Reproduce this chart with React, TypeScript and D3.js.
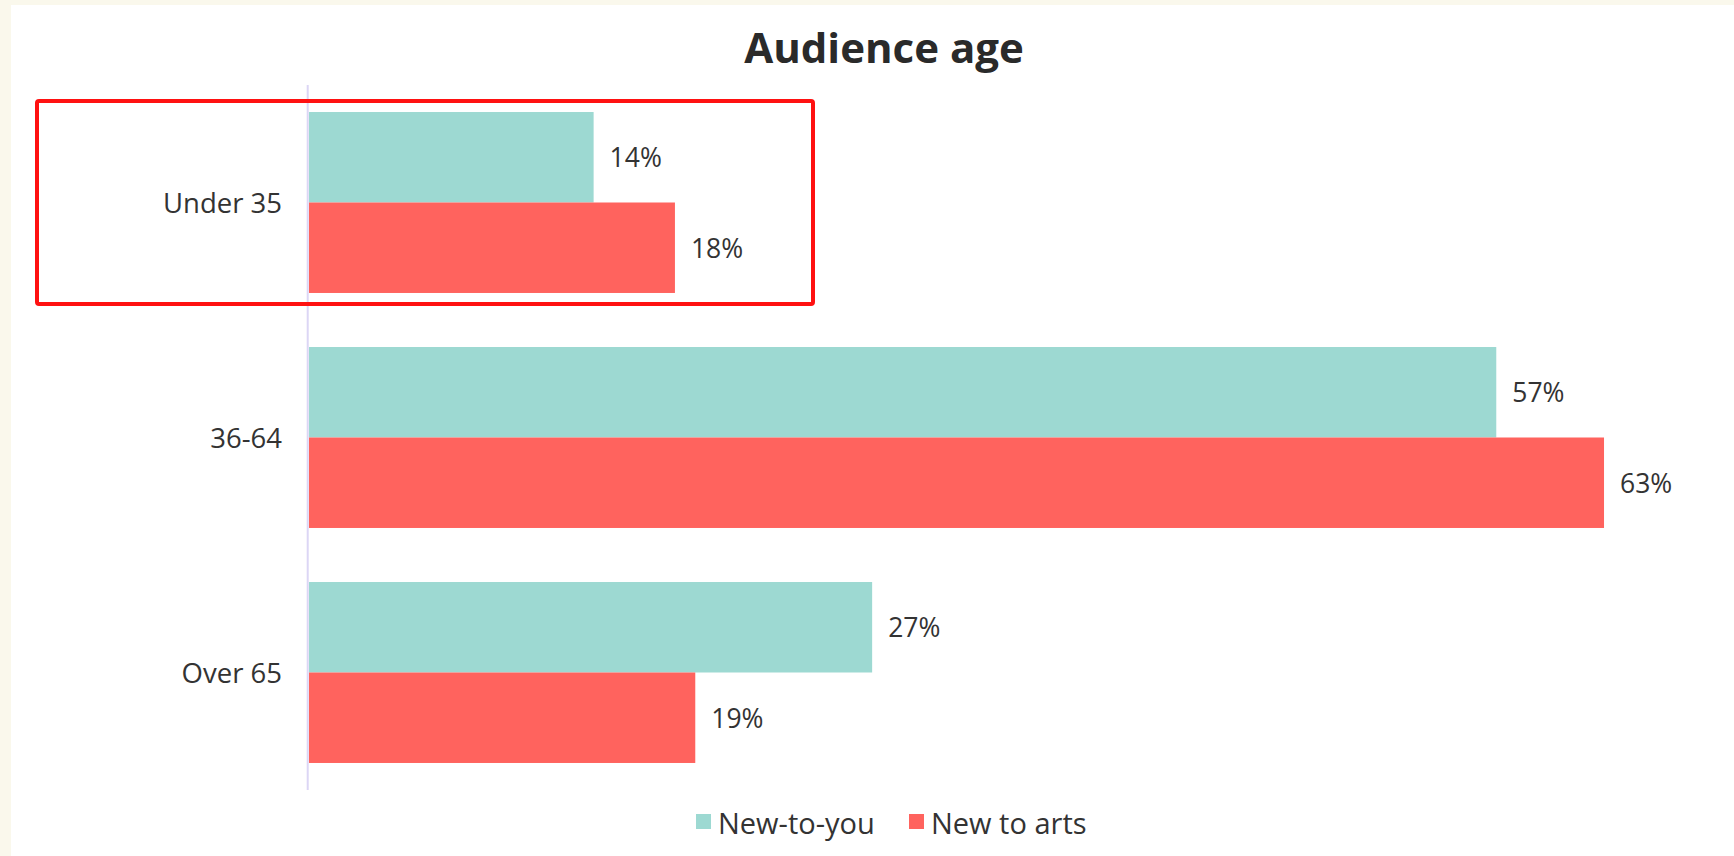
import React from "react";
import * as d3 from "d3";

const categories = ["Under 35", "36-64", "Over 65"];
const seriesNames = ["New-to-you", "New to arts"];
// bar lengths (percent)
const newToYou = [14.0, 58.4, 27.7];
const newToArts = [18.0, 63.7, 19.0];
// printed value labels
const newToYouLabels = ["14%", "57%", "27%"];
const newToArtsLabels = ["18%", "63%", "19%"];
const colors = ["#9dd9d2", "#ff635e"];

const W = 1734;
const H = 856;
const FONT = "'Open Sans', 'Noto Sans', sans-serif";
const TEXT = "#333333";

export default function App() {
  const axisX = 307.7;
  const x = d3.scaleLinear().domain([0, 70]).range([309, 309 + 70 * 20.33]);
  const y = d3
    .scaleBand<string>()
    .domain(categories)
    .range([85, 790])
    .paddingInner(0.23)
    .paddingOuter(0.115);
  const sub = d3.scaleBand<string>().domain(seriesNames).range([0, y.bandwidth()]).padding(0);

  const series = [
    { name: seriesNames[0], values: newToYou, labels: newToYouLabels, color: colors[0] },
    { name: seriesNames[1], values: newToArts, labels: newToArtsLabels, color: colors[1] },
  ];

  const hlY0 = (y(categories[0]) as number) - 11;
  const hlY1 = (y(categories[0]) as number) + y.bandwidth() + 11;

  return (
    <svg
      width={W}
      height={H}
      style={{ position: "absolute", left: 0, top: 0, display: "block" }}
    >
      <rect x={0} y={0} width={W} height={H} fill="#faf8ec" />
      <rect x={11} y={5} width={W - 11} height={H - 5} fill="#ffffff" />

      <text
        x={884}
        y={63}
        textAnchor="middle"
        fontFamily={FONT}
        fontWeight={700}
        fontSize={42}
        fill="#2a2a2a"
      >
        Audience age
      </text>

      {series.map((s) =>
        categories.map((c, i) => {
          const y0 = (y(c) as number) + (sub(s.name) as number);
          const bh = sub.bandwidth();
          const xe = x(s.values[i]);
          return (
            <g key={s.name + c}>
              <rect x={x(0)} y={y0} width={xe - x(0)} height={bh} fill={s.color} />
              <text
                x={xe + 16}
                y={y0 + bh / 2}
                dominantBaseline="central"
                fontFamily={FONT}
                fontSize={26.5}
                fill={TEXT}
              >
                {s.labels[i]}
              </text>
            </g>
          );
        })
      )}

      <line x1={axisX} x2={axisX} y1={85} y2={790} stroke="#dcd6f5" strokeWidth={2} />

      {categories.map((c) => (
        <text
          key={c}
          x={282}
          y={(y(c) as number) + y.bandwidth() / 2}
          textAnchor="end"
          dominantBaseline="central"
          fontFamily={FONT}
          fontSize={27.5}
          fill={TEXT}
        >
          {c}
        </text>
      ))}

      <rect
        x={37}
        y={hlY0}
        width={776}
        height={hlY1 - hlY0}
        fill="none"
        stroke="#ff1111"
        strokeWidth={4}
        rx={2}
      />

      {series.map((s, i) => {
        const lx = i === 0 ? 696 : 909;
        return (
          <g key={s.name}>
            <rect x={lx} y={814} width={15} height={15} fill={s.color} />
            <text
              x={lx + 22}
              y={822}
              dominantBaseline="central"
              fontFamily={FONT}
              fontSize={29}
              fill={TEXT}
            >
              {s.name}
            </text>
          </g>
        );
      })}
    </svg>
  );
}
